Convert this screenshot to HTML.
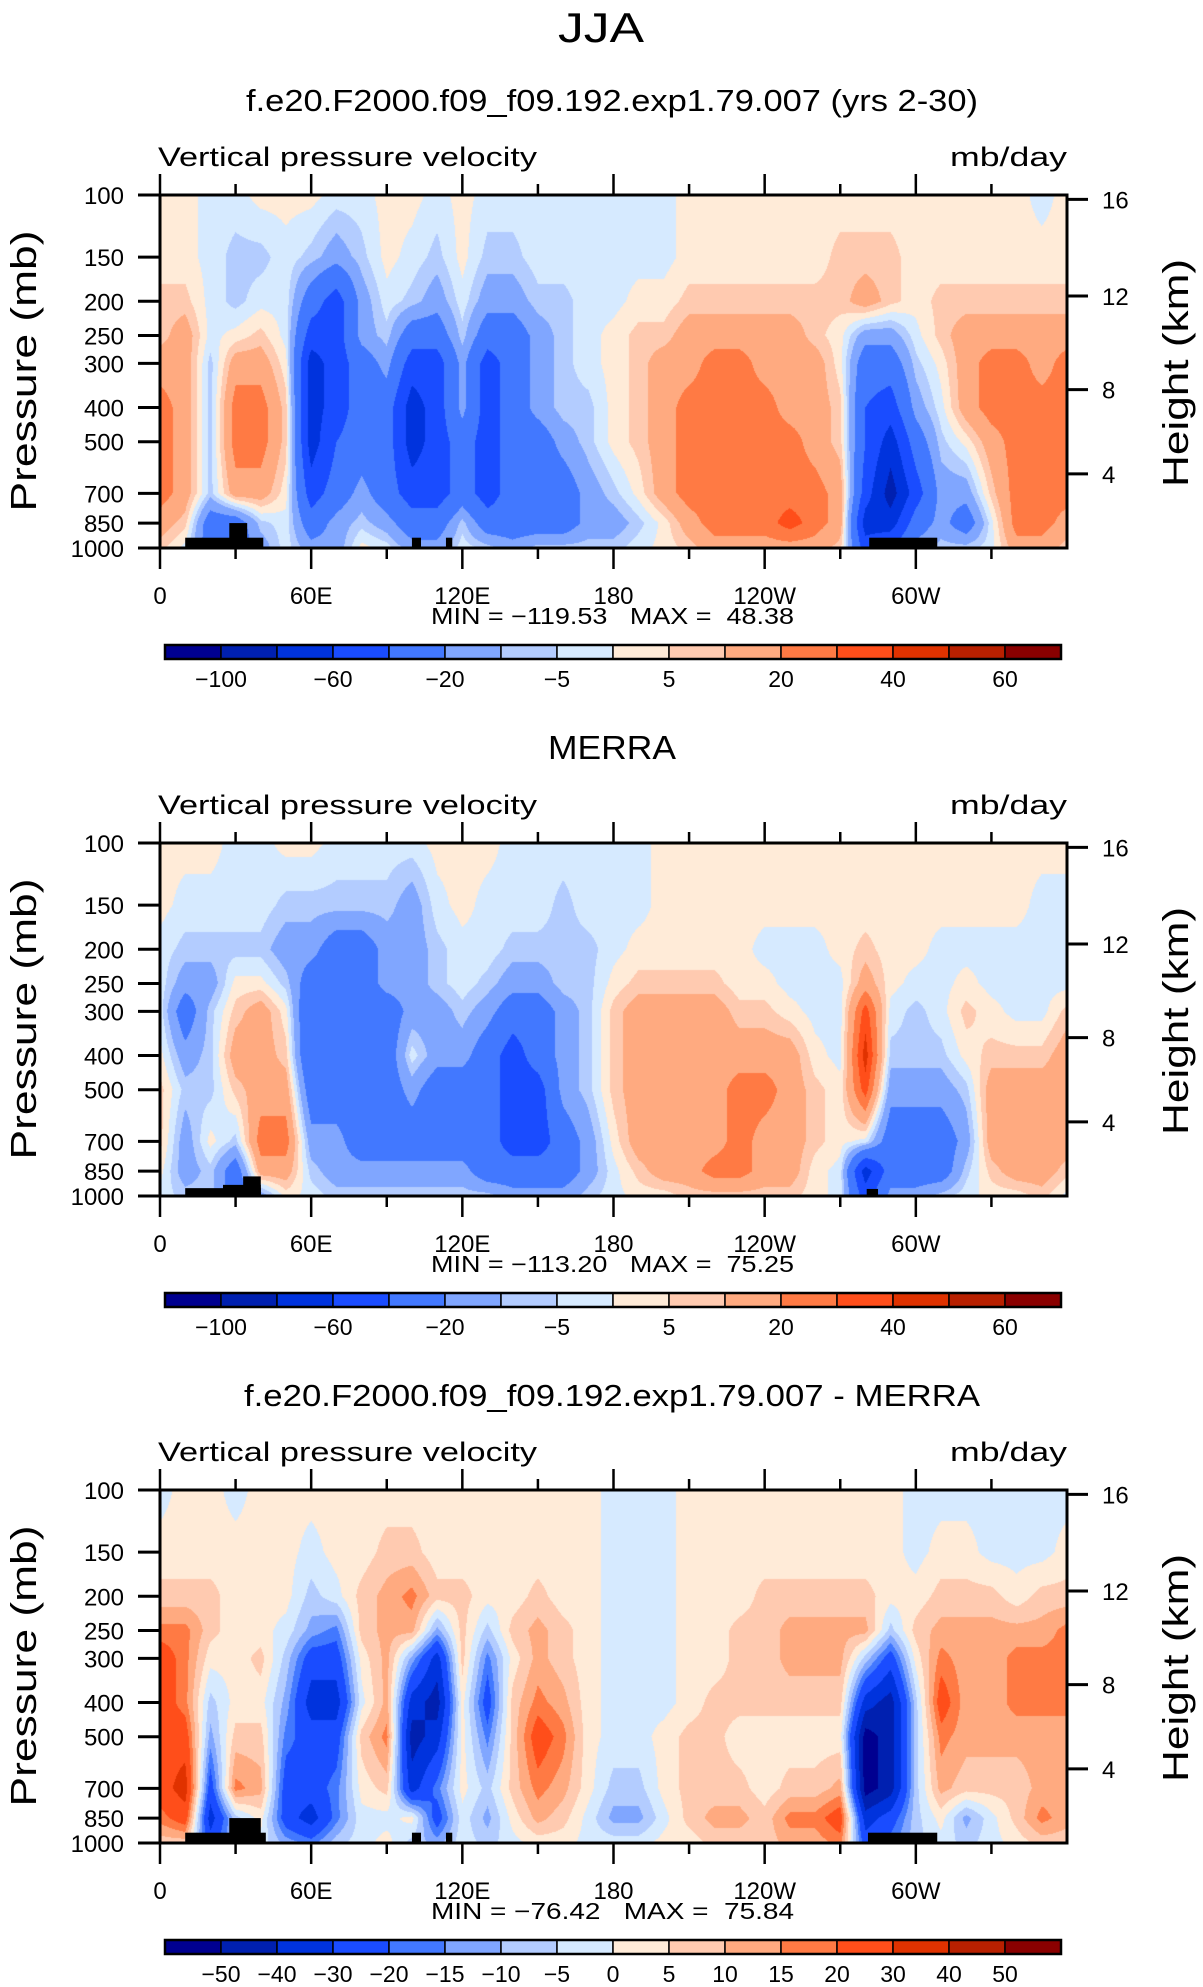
<!DOCTYPE html>
<html><head><meta charset="utf-8">
<style>
html,body{margin:0;padding:0;background:#fff;}
#wrap{position:relative;width:1203px;height:1987px;overflow:hidden;background:#fff;}
canvas{position:absolute;}
svg{position:absolute;left:0;top:0;}
text{font-family:"Liberation Sans",sans-serif;fill:#000;white-space:pre;}
</style></head>
<body>
<div id="wrap">
<canvas id="c0" width="907" height="353"></canvas>
<canvas id="c1" width="907" height="353"></canvas>
<canvas id="c2" width="907" height="353"></canvas>
<svg id="svg" width="1203" height="1987" xmlns="http://www.w3.org/2000/svg">
<text x="601" y="42" font-size="42" text-anchor="middle" textLength="86" lengthAdjust="spacingAndGlyphs">JJA</text>
</svg>
</div>
<script>
// ===== data =====
const lons = [0,10,20,30,40,50,60,70,80,90,100,110,120,130,140,150,160,170,180,190,200,210,220,230,240,250,260,270,280,290,300,310,320,330,340,350,360];
const levels = [100,150,200,250,300,400,500,700,850,1000];
const heightTicks = [16,12,8,4];
const lonTickLabels = ["0","60E","120E","180","120W","60W"];
const levelsAbs = [-100,-80,-60,-40,-20,-10,-5,0,5,10,20,30,40,50,60];
const levelsDiff = [-50,-40,-30,-20,-15,-10,-5,0,5,10,15,20,30,40,50];
const cbLabelsAbs = ["-100","","-60","","-20","","-5","","5","","20","","40","","60"];
const cbLabelsDiff = ["-50","-40","-30","-20","-15","-10","-5","0","5","10","15","20","30","40","50"];
const colors = ["#000090","#0020b0","#0033dd","#1a4cff","#4278ff","#80a6ff","#b3ccff","#d6eaff","#ffebd8","#ffcab0","#ffaa80","#ff7a44","#ff4e1a","#e03200","#b82000","#8a0000"];
const titles = ["f.e20.F2000.f09_f09.192.exp1.79.007 (yrs 2-30)","MERRA","f.e20.F2000.f09_f09.192.exp1.79.007 - MERRA"];
const minMax = [["-119.53","48.38"],["-113.20","75.25"],["-76.42","75.84"]];
const fieldModel = [
[2,2,7,7,15,25,25,25,15,7],[2,2,7,15,15,15,15,15,7,-2],[-2,-2,-2,-2,-7,-7,-7,-7,-30,-30],[-2,-7,-7,2,15,25,25,15,-30,-30],
[2,-7,-2,7,15,25,25,15,-7,-15],[2,-2,-2,-2,2,7,7,2,-2,-2],[2,-7,-30,-50,-70,-70,-70,-50,-30,-15],[-2,-15,-50,-50,-50,-50,-40,-30,-15,-15],
[-2,-7,-15,-15,-30,-30,-30,-15,-7,2],[2,2,-2,-7,-15,-30,-30,-30,-15,-2],[2,-2,-7,-30,-50,-70,-70,-50,-30,-15],[-2,-7,-15,-30,-50,-50,-50,-50,-30,-15],
[2,2,-2,-7,-15,-15,-30,-30,-7,-2],[-2,-7,-15,-30,-50,-50,-50,-50,-30,-7],[-2,-7,-15,-30,-30,-30,-30,-30,-30,-15],[-2,-2,-7,-15,-15,-15,-30,-30,-30,-7],
[-2,-2,-7,-7,-7,-7,-15,-30,-30,-7],[-2,-2,-2,-2,-2,-7,-7,-15,-15,-7],[-2,-2,-2,2,2,2,2,-7,-15,-7],[-2,-2,2,7,7,7,7,2,-7,-2],
[-2,-2,2,7,15,15,15,15,2,2],[2,2,7,15,15,25,25,25,15,7],[2,2,7,15,25,25,25,25,25,15],[2,2,7,15,25,25,25,25,25,15],
[2,2,7,15,15,25,25,25,25,15],[2,2,7,15,15,15,25,25,35,15],[2,2,7,7,15,15,15,25,25,15],[2,7,7,2,2,7,7,15,15,7],
[2,7,15,-15,-30,-40,-40,-50,-70,-50],[2,7,7,-15,-30,-50,-70,-90,-70,-40],[2,2,2,-2,-7,-15,-30,-50,-30,-15],[2,2,7,7,2,-2,-7,-15,-15,-7],
[2,2,7,15,15,15,2,-15,-30,-7],[2,2,7,15,25,25,15,7,-2,-2],[2,2,7,15,25,25,25,25,25,15],[-2,2,7,15,15,25,25,25,25,15],[2,2,7,15,25,25,25,25,15,7]];
const fieldMerra = [
[2,2,-2,-2,-2,2,7,7,2,-2],[2,-2,-7,-15,-30,-15,-7,-15,-15,-7],[2,-2,-7,-15,-7,-7,-7,2,-7,-7],[-2,-2,-7,2,7,15,7,-7,-30,-30],
[-2,-2,-7,2,15,15,15,25,15,-15],[2,-7,-15,-7,2,7,15,25,15,2],[2,-7,-15,-30,-40,-40,-30,-15,-7,-2],[-2,-7,-30,-30,-30,-30,-30,-15,-15,-7],
[-2,-7,-30,-30,-30,-30,-30,-30,-15,-7],[-2,-7,-15,-15,-30,-30,-30,-30,-15,-7],[-2,-15,-15,-15,-15,-2,-15,-30,-15,-7],[2,-2,-7,-7,-15,-15,-30,-30,-15,-7],
[2,2,-2,-2,-7,-15,-30,-30,-15,-7],[2,-2,-2,-7,-15,-30,-30,-30,-30,-7],[-2,-2,-7,-15,-30,-50,-50,-50,-30,-15],[-2,-2,-7,-15,-30,-30,-50,-50,-30,-15],
[-2,-7,-7,-7,-15,-15,-15,-30,-30,-15],[-2,-2,-7,-7,-7,-7,-7,-15,-15,-7],[-2,-2,-2,2,7,7,7,2,-2,-2],[-2,-2,2,7,15,15,15,15,7,2],
[2,2,2,7,15,15,15,15,15,2],[2,2,2,7,15,15,15,15,15,7],[2,2,2,7,15,15,15,15,25,7],[2,2,2,2,7,15,25,25,25,7],
[2,2,-2,2,7,15,25,15,15,7],[2,2,-2,-2,2,15,15,15,15,7],[2,2,-2,-2,-2,2,7,7,2,2],[2,2,2,-2,-2,-2,2,2,-2,-2],
[2,2,7,15,35,45,35,-2,-70,-50],[2,2,2,2,-2,-7,-15,-30,-30,-15],[2,2,2,-2,-7,-7,-15,-30,-30,-15],[2,2,-2,-2,-2,-7,-15,-30,-30,-7],
[2,2,-2,2,7,2,-7,-15,-7,-2],[2,2,-2,-2,2,7,15,15,7,2],[2,2,-2,-2,-2,7,15,15,15,2],[2,-2,-2,-2,-2,7,15,15,15,7],[2,-2,-2,-2,7,15,15,15,7,-2]];
const fieldDiff = [
[-2,2,7,17,25,25,25,25,17,7],[2,2,7,17,17,17,25,35,25,7],[2,2,7,7,2,-7,-12,-25,-35,-25],[-2,2,2,2,2,2,7,17,-7,-7],
[2,2,2,2,7,2,7,12,2,-2],[2,2,2,-2,-7,-12,-17,-25,-25,-12],[2,-2,-7,-12,-25,-35,-25,-25,-35,-17],[2,2,-2,-17,-25,-35,-25,-17,-17,-7],
[2,2,7,7,2,-2,7,2,-2,-2],[2,7,12,12,12,12,17,7,-2,2],[2,7,17,12,-12,-35,-45,-35,2,-7],[2,2,7,-12,-35,-45,-35,-17,-25,-12],
[2,2,7,7,7,2,2,2,-2,-2],[2,2,2,-7,-17,-25,-17,-7,-12,-7],[2,2,2,7,2,7,7,7,2,-2],[2,2,7,12,12,17,25,17,12,2],
[2,2,2,7,7,12,17,12,7,2],[2,2,2,2,2,2,2,2,-2,-2],[-2,-2,-2,-2,-2,-2,-2,-7,-12,-2],[-2,-2,-2,-2,-2,-2,-2,-7,-12,-2],
[-2,-2,-2,-2,-2,-2,2,2,-2,2],[2,2,2,2,2,2,7,7,7,2],[2,2,2,2,2,7,7,7,12,7],[2,2,2,7,7,7,2,7,12,7],
[2,2,7,7,7,7,2,2,7,7],[2,2,7,12,12,7,2,7,17,12],[2,2,7,12,12,7,2,7,17,12],[2,2,7,12,12,7,2,12,25,17],
[2,2,7,12,-7,-35,-55,-55,-35,-25],[2,2,2,-7,-25,-45,-45,-45,-25,-17],[-2,-2,2,7,2,-7,-7,-7,-7,-7],[-2,2,7,12,17,25,17,12,2,-2],
[-2,2,7,12,12,12,12,7,-12,-7],[-2,-2,7,12,12,12,12,7,-2,-2],[-2,-2,2,12,17,17,12,7,7,2],[-2,-2,7,12,17,17,12,12,17,7],[-2,2,7,17,17,17,12,12,12,7]];
const terrainModel = [[10,41,935],[27.5,34.6,850],[100,103.6,935],[113.5,116,935],[281.5,308.5,935]];
const terrainMerra = [[10,40,950],[25,40,930],[33,40,880],[280.5,285,955]];
const terrainDiff = [[10,42,935],[27.5,40,850],[100,103.6,935],[113.5,116,935],[281,308.5,935]];

// ===== layout =====
const PL = 160, PW = 907, PH = 353;
const tops = [195, 843, 1490];
const fields = [fieldModel, fieldMerra, fieldDiff];
const terrains = [terrainModel, terrainMerra, terrainDiff];
const cbLevels = [levelsAbs, levelsAbs, levelsDiff];
const cbLabels = [cbLabelsAbs, cbLabelsAbs, cbLabelsDiff];
const NS = "http://www.w3.org/2000/svg";
const svg = document.getElementById('svg');

function xScale(lon){ return PL + lon/360*PW; }
function yScale(p, top){ return top + (Math.log10(p) - 2) * PH; }
function stdPressure(zkm){ const z = zkm*1000; if (z <= 11000) return 1013.25*Math.pow(1-2.25577e-5*z, 5.25588); return 226.32*Math.exp(-(z-11000)/6341.6); }

function mk(tag, attrs, parent){ const e = document.createElementNS(NS, tag); for (const k in attrs) e.setAttribute(k, attrs[k]); (parent||svg).appendChild(e); return e; }
function hex(c){ return [parseInt(c.substr(1,2),16),parseInt(c.substr(3,2),16),parseInt(c.substr(5,2),16)]; }
const rgb = colors.map(hex);
const logLev = levels.map(p => Math.log10(p));

function sample(field, lon, lp){
  let i = lon/10; let i0 = Math.min(Math.floor(i), lons.length-2); let fx = i - i0;
  let j0 = 0; while (j0 < levels.length-2 && lp > logLev[j0+1]) j0++;
  let fy = (lp - logLev[j0])/(logLev[j0+1]-logLev[j0]); fy = Math.max(0, Math.min(1, fy));
  const a = field[i0][j0], b = field[i0+1][j0], c = field[i0][j0+1], d = field[i0+1][j0+1];
  return (a*(1-fx)+b*fx)*(1-fy) + (c*(1-fx)+d*fx)*fy;
}
function colorIndex(v, lv){ let k = 0; while (k < lv.length && v >= lv[k]) k++; return k; }

for (let pi = 0; pi < 3; pi++){
  const top = tops[pi];
  const cv = document.getElementById('c'+pi);
  cv.style.left = PL+'px'; cv.style.top = top+'px';
  const ctx = cv.getContext('2d');
  const img = ctx.createImageData(PW, PH);
  for (let y = 0; y < PH; y++){
    const lp = 2 + (y+0.5)/PH;
    for (let x = 0; x < PW; x++){
      const lon = (x+0.5)/PW*360;
      const ci = colorIndex(sample(fields[pi], lon, lp), cbLevels[pi]);
      const o = (y*PW + x)*4, c = rgb[ci];
      img.data[o]=c[0]; img.data[o+1]=c[1]; img.data[o+2]=c[2]; img.data[o+3]=255;
    }
  }
  ctx.putImageData(img, 0, 0);

  const g = mk('g', {});
  
  

  terrains[pi].forEach(t => {
    const x0 = xScale(t[0]), x1 = xScale(t[1]), y0 = yScale(t[2], top);
    const r = mk('rect', {x:x0, y:y0, width:x1-x0, height: top+PH-y0, fill:'#000'}, g);
    
    
  });

  const fr = mk('rect', {x:PL, y:top, width:PW, height:PH, fill:'none', stroke:'#000', 'stroke-width':3}, g);
  
  

  for (let lon = 0; lon <= 330; lon += 30){
    const x = xScale(lon), major = lon % 60 === 0, len = major ? 21 : 11;
    mk('line', {x1:x, y1:top, x2:x, y2:top-len, stroke:'#000', 'stroke-width':2.5}, g);
    mk('line', {x1:x, y1:top+PH, x2:x, y2:top+PH+len, stroke:'#000', 'stroke-width':2.5}, g);
    if (major){
      const t = mk('text', {x:x, y:top+PH+56, 'font-size':24, 'text-anchor':'middle'}, g);
      t.textContent = lonTickLabels[lon/60];
      
      
    }
  }
  levels.forEach(p => {
    const y = yScale(p, top);
    mk('line', {x1:PL-22, y1:y, x2:PL, y2:y, stroke:'#000', 'stroke-width':3}, g);
    const t = mk('text', {x:124, y:y+9, 'font-size':24, 'text-anchor':'end'}, g);
    t.textContent = String(p);
    
    
  });
  heightTicks.forEach(h => {
    const y = yScale(stdPressure(h), top);
    mk('line', {x1:PL+PW, y1:y, x2:PL+PW+21, y2:y, stroke:'#000', 'stroke-width':3}, g);
    const t = mk('text', {x:1102, y:y+9, 'font-size':24}, g);
    t.textContent = String(h);
    
    
  });
  const yt = mk('text', {x:0, y:0, 'font-size':36, 'text-anchor':'middle', textLength:281, lengthAdjust:'spacingAndGlyphs', transform:'translate(36,'+(top+176)+') rotate(-90)'}, g);
  yt.textContent = 'Pressure (mb)';
  
  
  const ht = mk('text', {x:0, y:0, 'font-size':36, 'text-anchor':'middle', textLength:228, lengthAdjust:'spacingAndGlyphs', transform:'translate(1188,'+(top+178)+') rotate(-90)'}, g);
  ht.textContent = 'Height (km)';
  
  

  const tt = mk('text', {x:612, y:top-84, 'font-size': pi===1 ? 33 : 31, 'text-anchor':'middle'}, g);
  if (pi !== 1){ tt.setAttribute('textLength', pi===0 ? 732 : 736); tt.setAttribute('lengthAdjust','spacingAndGlyphs'); }
  else { tt.setAttribute('textLength', 128); tt.setAttribute('lengthAdjust','spacingAndGlyphs'); }
  tt.textContent = titles[pi];
  
  
  const vt = mk('text', {x:158, y:top-29, 'font-size':27, textLength:379, lengthAdjust:'spacingAndGlyphs'}, g);
  vt.textContent = 'Vertical pressure velocity';
  
  
  const ut = mk('text', {x:1067, y:top-29, 'font-size':27, 'text-anchor':'end', textLength:117, lengthAdjust:'spacingAndGlyphs'}, g);
  ut.textContent = 'mb/day';
  
  
  const mm = mk('text', {x:431, y:top+429, 'font-size':23, textLength:363, lengthAdjust:'spacingAndGlyphs'}, g);
  mm.textContent = 'MIN = \u2212' + minMax[pi][0].slice(1) + '   MAX =  ' + minMax[pi][1];
  
  

  const cbx = 165, cbw = 896/16, cby = top+450, cbh = 14;
  const cbg = mk('g', {}, g);
  
  
  colors.forEach((c, k) => {
    const r = mk('rect', {x:cbx+k*cbw, y:cby, width:cbw, height:cbh, fill:c, stroke:'#000', 'stroke-width':1.5}, cbg);
    
    
  });
  mk('rect', {x:cbx, y:cby, width:cbw*16, height:cbh, fill:'none', stroke:'#000', 'stroke-width':2.5}, cbg);
  cbLabels[pi].forEach((s, k) => {
    if (!s) return;
    const t = mk('text', {x:cbx+(k+1)*cbw, y:cby+42, 'font-size':23, 'text-anchor':'middle'}, cbg);
    t.textContent = s.replace('-', '\u2212');
    
    
  });
}
</script>
</body></html>
